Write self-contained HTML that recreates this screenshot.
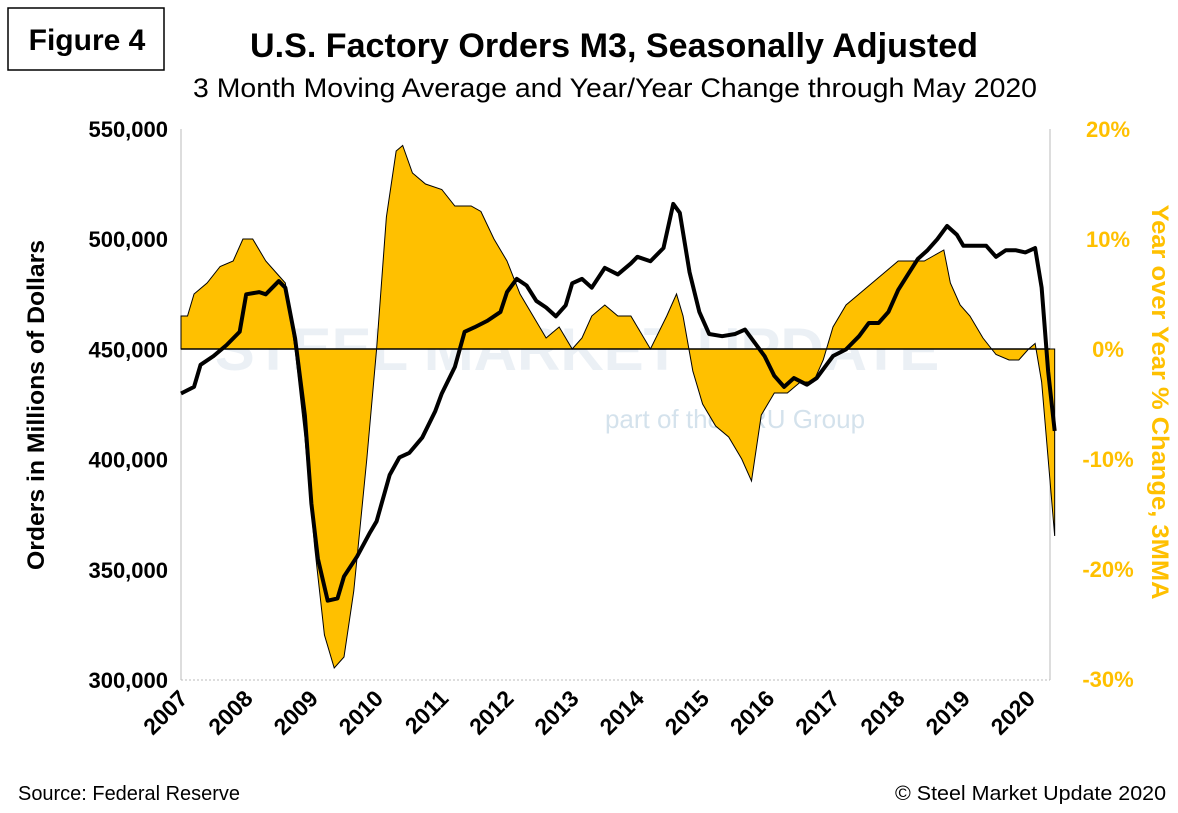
<!DOCTYPE html>
<html><head><meta charset="utf-8"><style>
body{margin:0;background:#fff;font-family:"Liberation Sans",sans-serif}
</style></head><body>
<svg width="1178" height="808" viewBox="0 0 1178 808" font-family="Liberation Sans, sans-serif">
<rect x="8" y="8" width="156" height="62" fill="#fff" stroke="#000" stroke-width="1.5"/>
<text x="87" y="50" font-size="30" font-weight="bold" text-anchor="middle">Figure 4</text>
<text x="614" y="57" font-size="34" font-weight="bold" text-anchor="middle" textLength="728" lengthAdjust="spacingAndGlyphs">U.S. Factory Orders M3, Seasonally Adjusted</text>
<text x="615" y="97" font-size="27" text-anchor="middle" textLength="844" lengthAdjust="spacingAndGlyphs">3 Month Moving Average and Year/Year Change through May 2020</text>
<text x="577" y="370" font-size="60" font-weight="bold" fill="#c8d6e4" opacity="0.35" text-anchor="middle">STEEL MARKET UPDATE</text>
<text x="735" y="428" font-size="26" fill="#b8cfe0" opacity="0.6" text-anchor="middle">part of the CRU Group</text>
<line x1="181" y1="129" x2="181" y2="680" stroke="#bbb"/>
<line x1="1050" y1="129" x2="1050" y2="680" stroke="#bbb"/>
<line x1="181" y1="680" x2="1050" y2="680" stroke="#bbb" stroke-dasharray="2,2"/>
<g id="area"></g><g id="line"></g><g id="axes"></g>
<text transform="translate(44,405) rotate(-90)" font-size="24" font-weight="bold" text-anchor="middle" textLength="330" lengthAdjust="spacingAndGlyphs">Orders in Millions of Dollars</text>
<text transform="translate(1152,402) rotate(90)" font-size="24" font-weight="bold" fill="#ffc000" text-anchor="middle" textLength="395" lengthAdjust="spacingAndGlyphs">Year over Year % Change, 3MMA</text>
<text x="18" y="800" font-size="20" textLength="222" lengthAdjust="spacingAndGlyphs">Source: Federal Reserve</text>
<text x="1166" y="800" font-size="20" text-anchor="end" textLength="271" lengthAdjust="spacingAndGlyphs">© Steel Market Update 2020</text>
</svg>
<script>
const lineT=[2007.0,2007.2,2007.3,2007.5,2007.7,2007.9,2008.0,2008.2,2008.3,2008.5,2008.6,2008.75,2008.9,2009.0,2009.1,2009.25,2009.4,2009.5,2009.7,2009.9,2010.0,2010.2,2010.35,2010.5,2010.7,2010.9,2011.0,2011.2,2011.35,2011.5,2011.7,2011.9,2012.0,2012.15,2012.3,2012.45,2012.6,2012.75,2012.9,2013.0,2013.15,2013.3,2013.5,2013.7,2013.9,2014.0,2014.2,2014.4,2014.55,2014.65,2014.8,2014.95,2015.1,2015.3,2015.5,2015.65,2015.8,2015.95,2016.1,2016.25,2016.4,2016.6,2016.75,2016.9,2017.0,2017.2,2017.4,2017.55,2017.7,2017.85,2018.0,2018.15,2018.3,2018.45,2018.6,2018.75,2018.9,2019.0,2019.2,2019.35,2019.5,2019.65,2019.8,2019.95,2020.1,2020.2,2020.3,2020.4];
const orders=[430,433,443,447,452,458,475,476,475,481,478,455,420,380,355,336,337,347,356,367,372,393,401,403,410,422,430,442,458,460,463,467,476,482,479,472,469,465,470,480,482,478,487,484,489,492,490,496,516,512,485,467,457,456,457,459,453,447,438,433,437,434,437,443,447,450,456,462,462,467,477,484,491,495,500,506,502,497,497,497,492,495,495,494,496,478,440,413];
const areaT=[2007.0,2007.1,2007.2,2007.4,2007.6,2007.8,2007.95,2008.1,2008.3,2008.45,2008.6,2008.75,2008.9,2009.05,2009.2,2009.35,2009.5,2009.65,2009.85,2010.0,2010.15,2010.3,2010.4,2010.55,2010.75,2011.0,2011.2,2011.45,2011.6,2011.8,2012.0,2012.2,2012.4,2012.6,2012.8,2013.0,2013.15,2013.3,2013.5,2013.7,2013.9,2014.0,2014.2,2014.45,2014.6,2014.7,2014.85,2015.0,2015.2,2015.4,2015.6,2015.75,2015.9,2016.1,2016.3,2016.5,2016.7,2016.85,2017.0,2017.2,2017.4,2017.6,2017.8,2018.0,2018.2,2018.4,2018.55,2018.7,2018.8,2018.95,2019.1,2019.3,2019.5,2019.7,2019.85,2020.0,2020.1,2020.2,2020.3,2020.4];
const yoy=[3,3,5,6,7.5,8,10,10,8,7,6,0,-8,-18,-26,-29,-28,-22,-10,0,12,18,18.5,16,15,14.5,13,13,12.5,10,8,5,3,1,2,0,1,3,4,3,3,2,0,3,5,3,-2,-5,-7,-8,-10,-12,-6,-4,-4,-3,-3,-1,2,4,5,6,7,8,8,8,8.5,9,6,4,3,1,-0.5,-1,-1,0,0.5,-3,-10,-17];
const leftTicks=[300000,350000,400000,450000,500000,550000];
const rightTicks=[-30,-20,-10,0,10,20];
const years=[2007,2008,2009,2010,2011,2012,2013,2014,2015,2016,2017,2018,2019,2020];
const NS="http://www.w3.org/2000/svg";
const X=t=>181+(t-2007)*65.2;
const YL=v=>680-(v-300)*551/250;
const YR=v=>349-v*11;
function mk(tag,attrs,parent){const e=document.createElementNS(NS,tag);for(const k in attrs)e.setAttribute(k,attrs[k]);document.getElementById(parent).appendChild(e);return e;}
let d=`M${X(areaT[0])},${YR(0)}`;areaT.forEach((t,i)=>d+=`L${X(t)},${YR(yoy[i])}`);d+=`L${X(areaT[areaT.length-1])},${YR(0)}Z`;
const a=mk('path',{d:d,fill:'#ffc000',stroke:'#000','stroke-width':1},'area');


const z=mk('line',{x1:181,x2:1050,y1:YR(0),y2:YR(0),stroke:'#000','stroke-width':1.5},'area');


let p=lineT.map((t,i)=>(i?'L':'M')+X(t)+','+YL(orders[i])).join('');
const l=mk('path',{d:p,fill:'none',stroke:'#000','stroke-width':4,'stroke-linejoin':'round'},'line');


leftTicks.forEach(v=>{const t=mk('text',{x:168,y:YL(v/1000)+8,'font-size':22,'font-weight':'bold','text-anchor':'end'},'axes');t.textContent=v.toLocaleString('en-US');

});
rightTicks.forEach(v=>{const t=mk('text',{x:1108,y:YR(v)+8,'font-size':22,'font-weight':'bold','text-anchor':'middle',fill:'#ffc000'},'axes');t.textContent=v+'%';

});
years.forEach(y=>{const x=X(y)+8;const t=mk('text',{x:x,y:700,'font-size':23,'font-weight':'bold','text-anchor':'end',transform:`rotate(-45 ${x} 700)`},'axes');t.textContent=y;

});
</script>
</body></html>
